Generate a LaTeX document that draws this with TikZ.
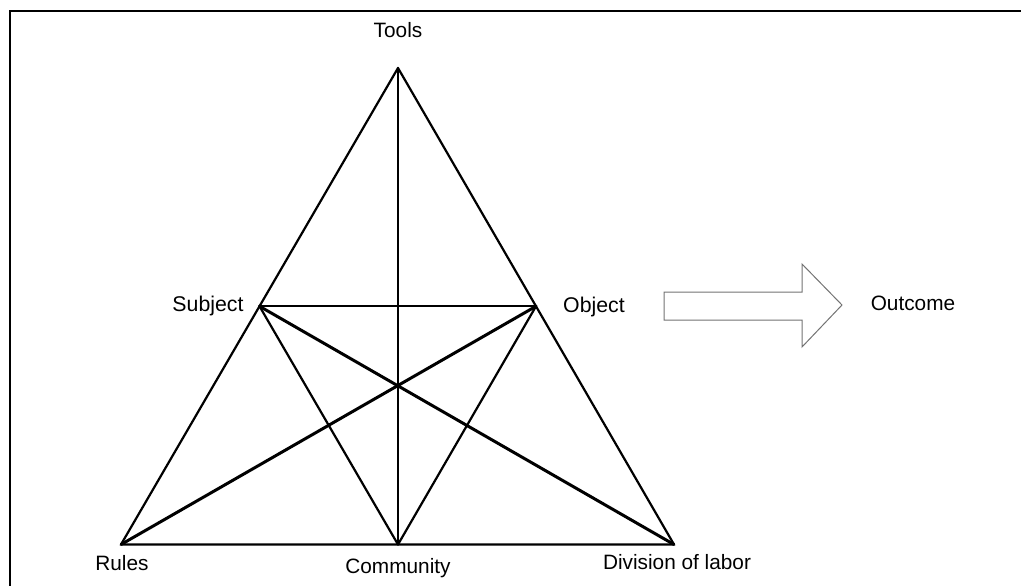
\documentclass[tikz,border=0pt]{standalone}
\usepackage{fontspec}
\setmainfont{Liberation Sans}
\usetikzlibrary{calc}
\begin{document}
\begin{tikzpicture}[x=1pt,y=-1pt,
  lbl/.style={font=\fontsize{20.8}{21}\selectfont, anchor=base, inner sep=0pt},
  keylbl/.style={lbl, font=\fontsize{21.3}{21}\selectfont},
  edge/.style={line width=2.2pt, line cap=round, line join=round},
  heavy/.style={line width=3pt, line cap=round},
  frame/.style={line width=2.6pt},
  bigarrow/.style={draw=black!55, line width=1pt, fill=white}]
\useasboundingbox (0,0) rectangle (1021,586);
% frame (top and left edges visible)
\coordinate (fTL) at (10,11);
\coordinate (fTR) at (1021,11);
\coordinate (fBL) at (10,586);
\draw[frame] (fBL) -- (fTL) -- (fTR);
% vertices
\coordinate (T) at (398,68);
\coordinate (R) at (121,544.5);
\coordinate (D) at (674,544.5);
\coordinate (C) at (398,544.5);
\coordinate (S) at ($(T)!0.5!(R)$);
\coordinate (O) at ($(T)!0.5!(D)$);
% outer triangle
\draw[edge] (T) -- (R) -- (D) -- cycle;
% inner lines
\draw[edge, line width=2.6pt] (T) -- (C);
\draw[edge] (S) -- (O);
\draw[edge] (S) -- (C) -- (O);
\draw[heavy] (S) -- (D);
\draw[heavy] (O) -- (R);
% labels
\node[lbl] (tools) at (398,37.5) {Tools};
\node[keylbl] (subject) at (208,311) {Subject};
\node[keylbl] (object) at (594,312) {Object};
\node[lbl] (rules) at (122,570.5) {Rules};
\node[lbl] (community) at (398,573) {Community};
\node[lbl] (division) at (677,569) {Division of labor};
\node[lbl] (outcome) at (913,310.5) {Outcome};
% block arrow
\draw[bigarrow] (664,292) -- (802,292) -- (802,264) -- (842,305) -- (802,347) -- (802,320) -- (664,320) -- cycle;
\end{tikzpicture}
\end{document}
